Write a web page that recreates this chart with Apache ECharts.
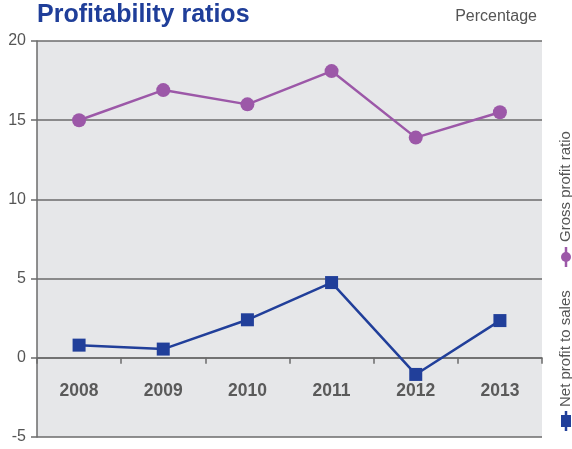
<!DOCTYPE html>
<html>
<head>
<meta charset="utf-8">
<script src="https://cdn.jsdelivr.net/npm/echarts@6/dist/echarts.min.js"></script>
<style>
  html, body { margin: 0; padding: 0; background: #fff; }
  #chart { width: 572px; height: 449px; }
</style>
</head>
<body>
<div id="chart"></div>
<script>
// Profitability ratios, 2008-2013 (percent)
const years = ['2008', '2009', '2010', '2011', '2012', '2013'];
const grossProfitRatio = [15.0, 16.9, 16.0, 18.1, 13.9, 15.5];
const netProfitToSales = [0.8, 0.55, 2.4, 4.75, -1.05, 2.35];
const yTicks = { min: -5, max: 20, step: 5 };

const FONT = '"Liberation Sans", Arial, sans-serif';
const PURPLE = '#9c58a8';
const BLUE = '#213f9a';
const AXIS_GREY = '#6b6b6b';

const chart = echarts.init(document.getElementById('chart'), null, { renderer: 'canvas' });

// Rotated legend entry: vertical marker line with symbol, text reading upward
function legendEntry(x, y, color, shape, label, gap) {
  const marker = shape === 'circle'
    ? { type: 'circle', shape: { cx: x, cy: y, r: 5 }, style: { fill: color } }
    : { type: 'rect', shape: { x: x - 5, y: y - 6, width: 10, height: 12 }, style: { fill: color } };
  return [
    { type: 'line', shape: { x1: x, y1: y - 10, x2: x, y2: y + 10 }, style: { stroke: color, lineWidth: 2.5 } },
    marker,
    {
      type: 'text', x: x, y: y - gap, rotation: Math.PI / 2,
      style: { text: label, fill: '#555', font: '15px ' + FONT, textAlign: 'left', textVerticalAlign: 'middle' }
    }
  ];
}

chart.setOption({
  animation: false,
  backgroundColor: '#fff',
  title: [
    { text: 'Profitability ratios', left: 37, top: 3, padding: 0,
      textStyle: { color: '#1f3e99', fontSize: 25, fontWeight: 'bold', fontFamily: FONT } },
    { text: 'Percentage', right: 35, top: 9, padding: 0,
      textStyle: { color: '#555', fontSize: 16, fontWeight: 'normal', fontFamily: FONT } }
  ],
  grid: { left: 37, right: 30, top: 41, bottom: 12, show: true,
          outerBoundsMode: 'none', containLabel: false,
          backgroundColor: '#e6e7e9', borderWidth: 0 },
  xAxis: [
    // zero line with category ticks
    {
      type: 'category', data: years, boundaryGap: true,
      axisLine: { onZero: true, lineStyle: { color: AXIS_GREY, width: 1.5 } },
      axisTick: { show: true, length: 6, inside: false, lineStyle: { color: AXIS_GREY, width: 1.5 } },
      axisLabel: { show: false },
      splitLine: { show: false }
    },
    // year labels sitting inside the plot, below the zero line
    {
      type: 'category', data: years, boundaryGap: true, position: 'bottom',
      axisLine: { show: false, onZero: false },
      axisTick: { show: false },
      axisLabel: { inside: true, margin: 37, color: '#5a5a5a', fontSize: 17.5,
                   fontWeight: 'bold', fontFamily: FONT },
      splitLine: { show: false }
    }
  ],
  yAxis: {
    type: 'value', min: yTicks.min, max: yTicks.max, interval: yTicks.step,
    axisLine: { show: true, onZero: false, lineStyle: { color: AXIS_GREY, width: 1.5 } },
    axisTick: { show: true, length: 6, lineStyle: { color: AXIS_GREY, width: 1.5 } },
    axisLabel: { margin: 11, color: '#555', fontSize: 16, fontFamily: FONT },
    splitLine: { show: true, lineStyle: { color: AXIS_GREY, width: 1.5 } }
  },
  series: [
    { name: 'Gross profit ratio', type: 'line', data: grossProfitRatio,
      symbol: 'circle', symbolSize: 14,
      lineStyle: { color: PURPLE, width: 2.5 }, itemStyle: { color: PURPLE } },
    { name: 'Net profit to sales', type: 'line', data: netProfitToSales,
      symbol: 'rect', symbolSize: 13,
      lineStyle: { color: BLUE, width: 2.5 }, itemStyle: { color: BLUE } }
  ],
  graphic: [
    ...legendEntry(566, 257, PURPLE, 'circle', 'Gross profit ratio', 15),
    ...legendEntry(566, 421, BLUE, 'rect', 'Net profit to sales', 14)
  ]
});
</script>
</body>
</html>
